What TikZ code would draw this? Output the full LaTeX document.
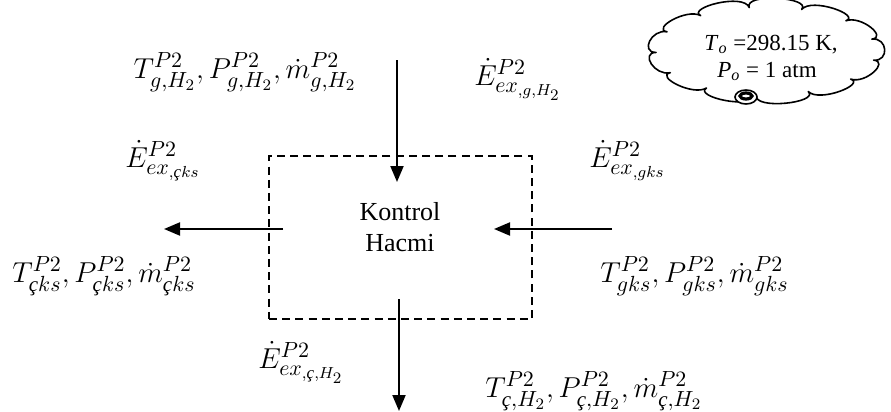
\documentclass[tikz,border=0pt]{standalone}
\usepackage{amsmath}
\usepackage{fontspec}
\setmainfont{Liberation Serif}
\usetikzlibrary{arrows.meta,calc}

\DeclareMathSizes{14}{14}{10.5}{8.5}
\newcommand{\cc}{\text{\itshape ç}}

\tikzset{
  flow/.style={line width=1pt,-{Triangle[length=8pt,width=6.5pt]}},
  cvbox/.style={draw,dashed,dash pattern=on 4pt off 2.6pt,line width=0.7pt,
    minimum width=131.5pt,minimum height=81.5pt,inner sep=0pt},
  lbl/.style={inner sep=0pt,font=\fontsize{14}{16}\selectfont},
  cvtext/.style={align=center,font=\fontsize{13}{15.5}\selectfont,inner sep=0pt},
  cloudline/.style={line width=0.8pt,line join=round},
  cloudtext/.style={inner sep=0pt,font=\fontsize{11.5}{13.5}\selectfont}
}

\begin{document}
\begin{tikzpicture}[x=0.5pt,y=-0.5pt]
\useasboundingbox (0,0) rectangle (891,412);

% control volume
\node[cvbox] (cv) at (400.5,237.5) {};
\node[cvtext] (cvt) at (400,227) {Kontrol\\Hacmi};

% arrow end points
\coordinate (topS) at (397,60);
\coordinate (topE) at (397,182);
\coordinate (leftS) at (283,229);
\coordinate (leftE) at (164,229);
\coordinate (rightS) at (612,229);
\coordinate (rightE) at (494,229);
\coordinate (botS) at (399,299);
\coordinate (botE) at (399,411);

\draw[flow] (topS) -- (topE);
\draw[flow] (leftS) -- (leftE);
\draw[flow] (rightS) -- (rightE);
\draw[flow] (botS) -- (botE);

% stream labels
\node[lbl,anchor=base] (lgh) at (245,78)
  {$T^{P2}_{g,H_2},P^{P2}_{g,H_2},\dot{m}^{P2}_{g,H_2}$};
\node[lbl,anchor=base west] (egh) at (474,85)
  {$\dot{E}^{P2}_{ex_{,g,H_2}}$};
\node[lbl,anchor=base west] (ecks) at (125,167)
  {$\dot{E}^{P2}_{ex_{,\cc ks}}$};
\node[lbl,anchor=base west] (egks) at (589,167)
  {$\dot{E}^{P2}_{ex_{,gks}}$};
\node[lbl,anchor=base west] (lcks) at (12,282)
  {$T^{P2}_{\cc ks},P^{P2}_{\cc ks},\dot{m}^{P2}_{\cc ks}$};
\node[lbl,anchor=base west] (lgks) at (600,282)
  {$T^{P2}_{gks},P^{P2}_{gks},\dot{m}^{P2}_{gks}$};
\node[lbl,anchor=base west] (ech) at (258,368)
  {$\dot{E}^{P2}_{ex_{,\cc,H_2}}$};
\node[lbl,anchor=base west] (lch) at (485,397)
  {$T^{P2}_{\cc,H_2},P^{P2}_{\cc,H_2},\dot{m}^{P2}_{\cc,H_2}$};

% dead state cloud: puffs bulging out between points on an ellipse
\coordinate (amb) at (766,51);
\foreach \k in {0,...,13}
  \coordinate (p\k) at ($(amb)+({110*cos(\k*360/13+12)},{44*sin(\k*360/13+12)})$);
\draw[cloudline,fill=white] (p0)
  \foreach \i [count=\j from 1] in {0,...,12} {
    .. controls ($(p\i)!-8pt!(amb)$) and ($(p\j)!-8pt!(amb)$) .. (p\j)
  } -- cycle;
\node[cloudtext,anchor=base] (ambT) at (771,50)
  {\textit{T}\textsubscript{\textit{o}} =298.15 K,};
\node[cloudtext,anchor=base] (ambP) at (767,77)
  {\textit{P}\textsubscript{\textit{o}} = 1 atm};
\draw[line width=0.8pt,fill=white] (746,97) ellipse [x radius=11, y radius=7];
\draw[line width=1.6pt] (746,96) ellipse [x radius=6, y radius=3];
\end{tikzpicture}
\end{document}
